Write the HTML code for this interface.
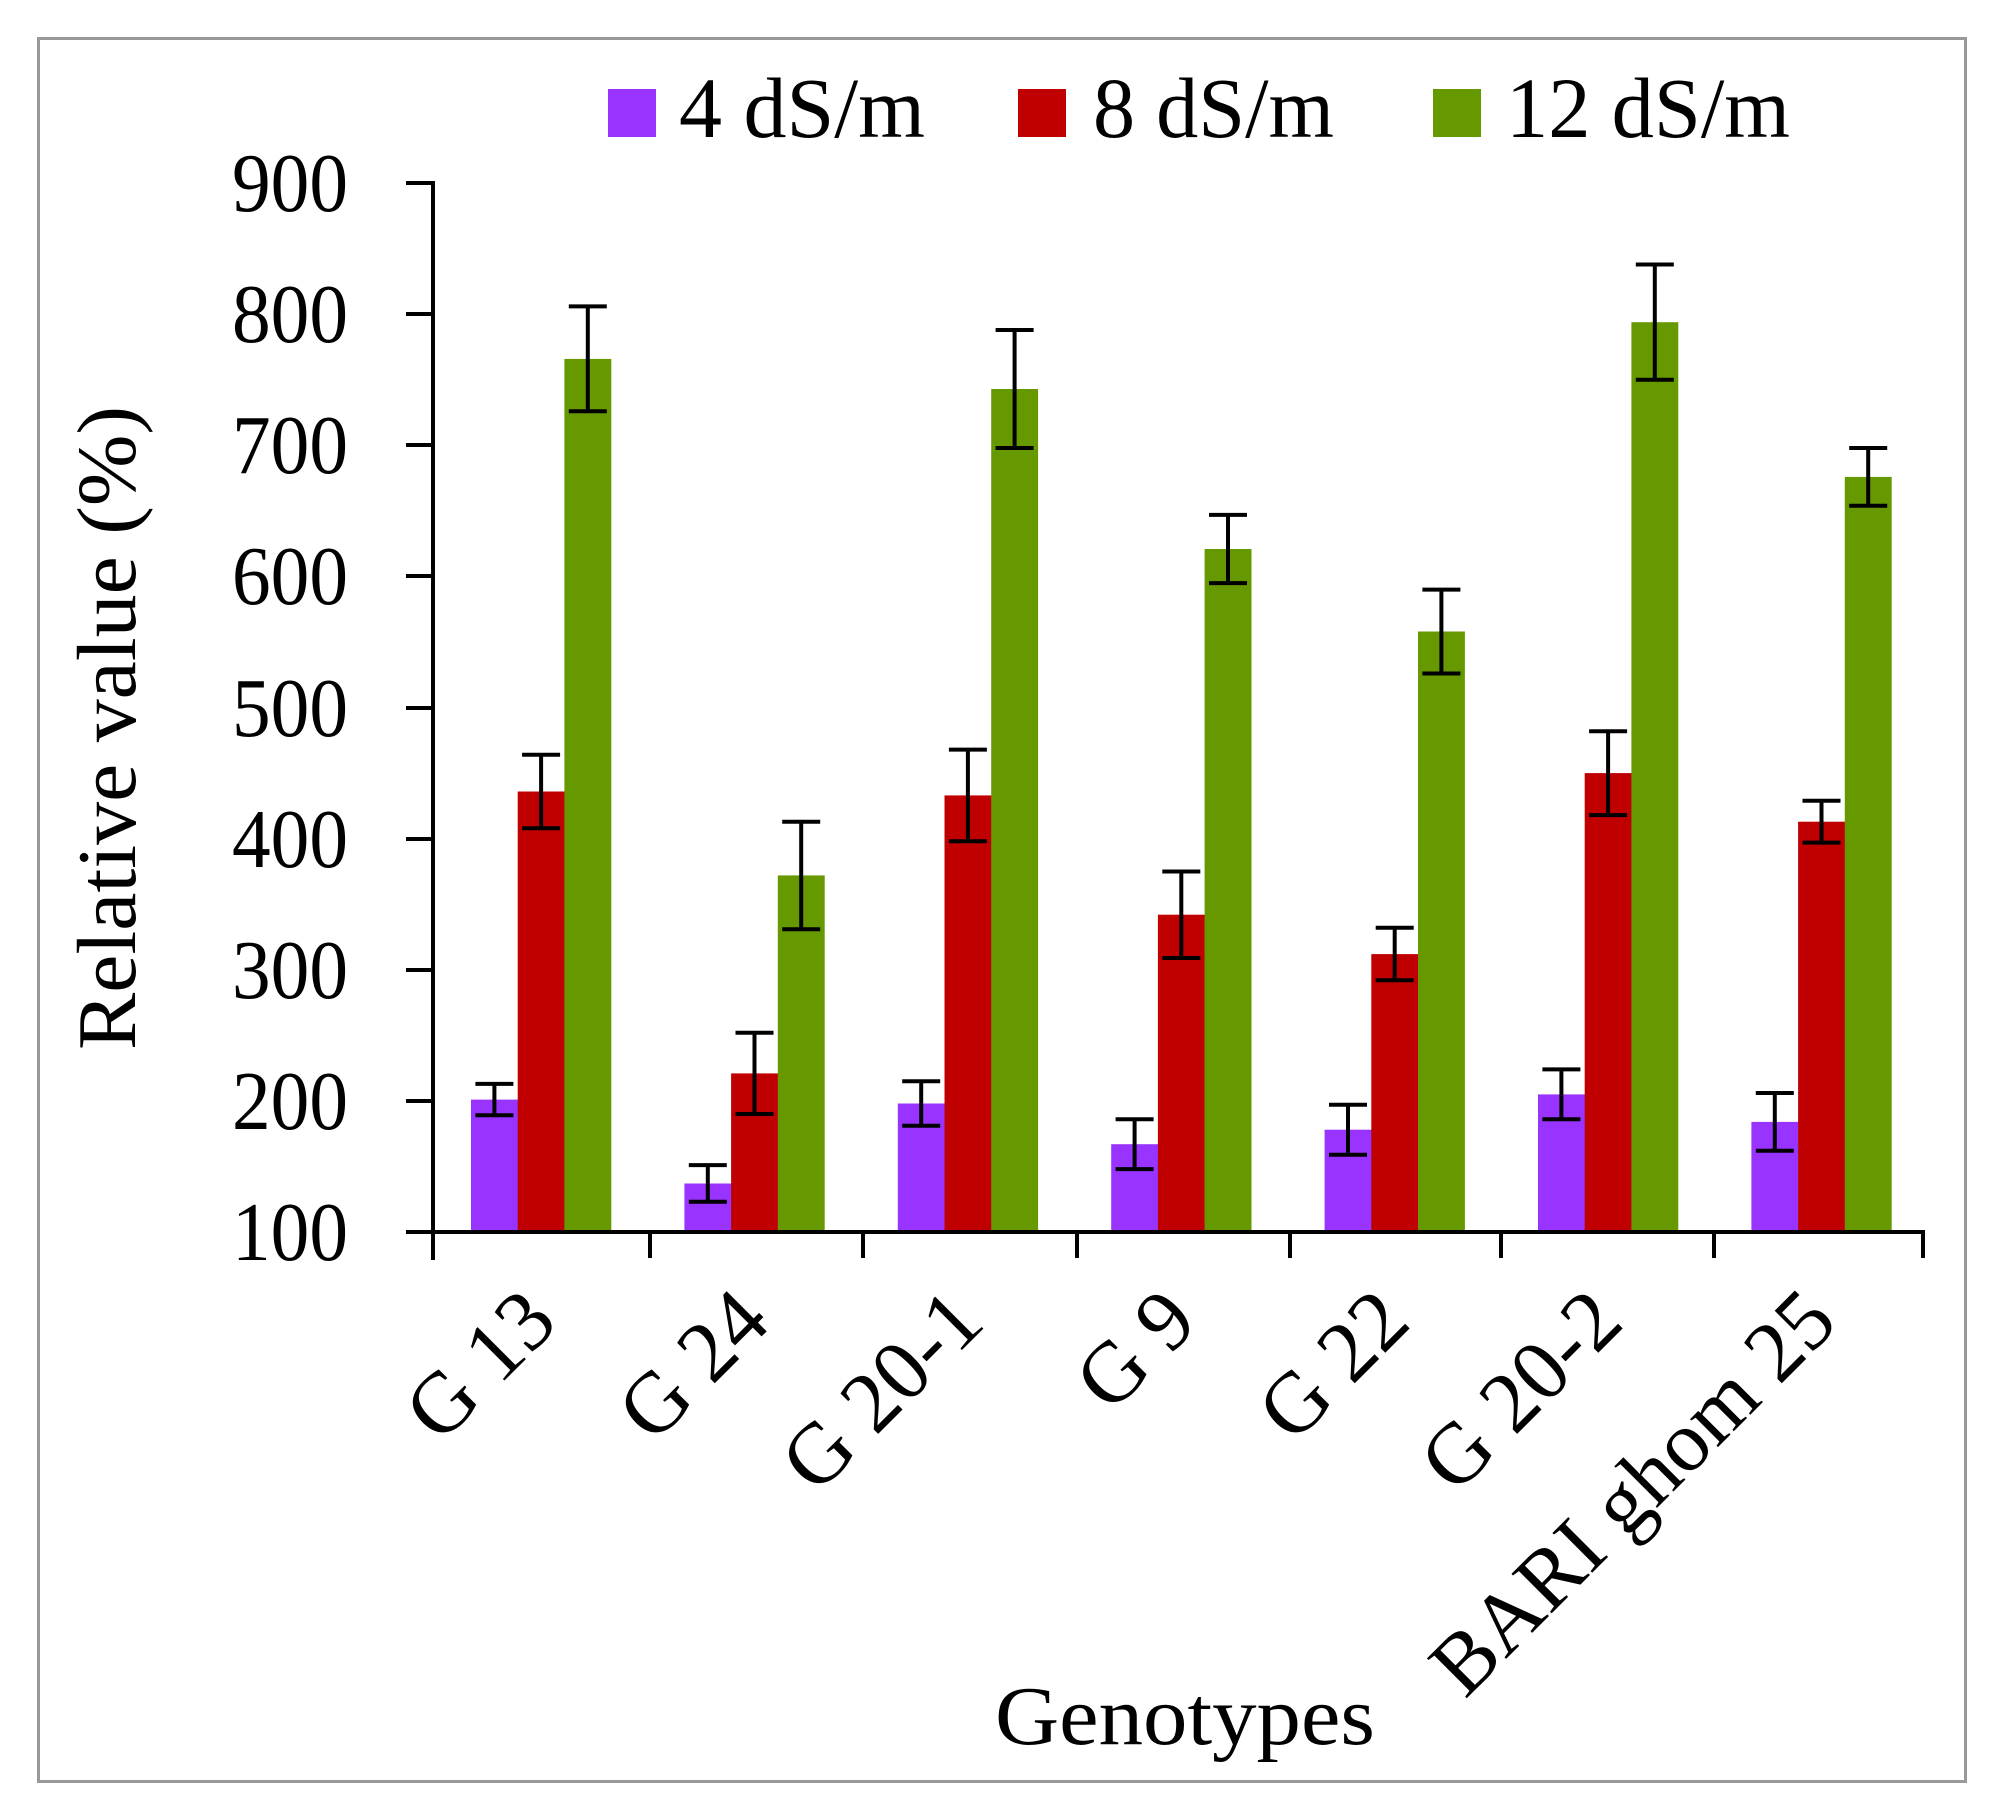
<!DOCTYPE html>
<html><head><meta charset="utf-8"><style>html,body{margin:0;padding:0;background:#fff}svg{display:block}</style></head>
<body>
<svg width="1995" height="1819" viewBox="0 0 1995 1819" xmlns="http://www.w3.org/2000/svg" font-family="'Liberation Serif', serif">
<rect x="38.5" y="38.5" width="1927" height="1743" fill="none" stroke="#999" stroke-width="3"/>
<rect x="608" y="89" width="48" height="48" fill="#9933FF"/>
<text x="679" y="137" font-size="86" textLength="246" lengthAdjust="spacingAndGlyphs">4 dS/m</text>
<rect x="1018" y="89" width="48" height="48" fill="#C00000"/>
<text x="1093" y="137" font-size="86" textLength="241" lengthAdjust="spacingAndGlyphs">8 dS/m</text>
<rect x="1433" y="89" width="48" height="48" fill="#669900"/>
<text x="1506" y="137" font-size="86" textLength="284" lengthAdjust="spacingAndGlyphs">12 dS/m</text>
<g fill="#9933FF">
<rect x="471" y="1099.6" width="47" height="132.4"/>
<rect x="684.4" y="1183.5" width="47" height="48.5"/>
<rect x="897.8" y="1103.5" width="47" height="128.5"/>
<rect x="1111.2" y="1144.2" width="47" height="87.8"/>
<rect x="1324.6" y="1129.7" width="47" height="102.3"/>
<rect x="1538" y="1094.4" width="47" height="137.6"/>
<rect x="1751.4" y="1121.9" width="47" height="110.1"/>
</g>
<g fill="#C00000">
<rect x="517.7" y="791.5" width="47" height="440.5"/>
<rect x="731.1" y="1073.4" width="47" height="158.6"/>
<rect x="944.5" y="795.4" width="47" height="436.6"/>
<rect x="1157.9" y="914.7" width="47" height="317.3"/>
<rect x="1371.3" y="954.1" width="47" height="277.9"/>
<rect x="1584.7" y="773.1" width="47" height="458.9"/>
<rect x="1798.1" y="821.7" width="47" height="410.3"/>
</g>
<g fill="#669900">
<rect x="564.4" y="358.9" width="46.9" height="873.1"/>
<rect x="777.8" y="875.4" width="46.9" height="356.6"/>
<rect x="991.2" y="389" width="46.9" height="843"/>
<rect x="1204.6" y="549" width="46.9" height="683"/>
<rect x="1418" y="631.5" width="46.9" height="600.5"/>
<rect x="1631.4" y="322.2" width="46.9" height="909.8"/>
<rect x="1844.8" y="476.9" width="46.9" height="755.1"/>
</g>
<g stroke="#000" stroke-width="4" fill="none">
<path d="M494.4 1083.9V1115.3M475.4 1083.9H513.4M475.4 1115.3H513.4"/>
<path d="M541.1 754.8V828.2M522.1 754.8H560.1M522.1 828.2H560.1"/>
<path d="M587.8 306.4V411.3M568.8 306.4H606.8M568.8 411.3H606.8"/>
<path d="M707.8 1165.1V1201.8M688.8 1165.1H726.8M688.8 1201.8H726.8"/>
<path d="M754.5 1032.7V1114M735.5 1032.7H773.5M735.5 1114H773.5"/>
<path d="M801.2 821.7V929.2M782.2 821.7H820.2M782.2 929.2H820.2"/>
<path d="M921.2 1081.2V1125.8M902.2 1081.2H940.2M902.2 1125.8H940.2"/>
<path d="M967.9 749.6V841.3M948.9 749.6H986.9M948.9 841.3H986.9"/>
<path d="M1014.6 330V448M995.6 330H1033.6M995.6 448H1033.6"/>
<path d="M1134.6 1119.3V1169.1M1115.6 1119.3H1153.6M1115.6 1169.1H1153.6"/>
<path d="M1181.3 871.5V958M1162.3 871.5H1200.3M1162.3 958H1200.3"/>
<path d="M1228 514.9V583.1M1209 514.9H1247M1209 583.1H1247"/>
<path d="M1348 1104.8V1154.7M1329 1104.8H1367M1329 1154.7H1367"/>
<path d="M1394.7 927.8V980.3M1375.7 927.8H1413.7M1375.7 980.3H1413.7"/>
<path d="M1441.4 589.6V673.5M1422.4 589.6H1460.4M1422.4 673.5H1460.4"/>
<path d="M1561.4 1069.4V1119.3M1542.4 1069.4H1580.4M1542.4 1119.3H1580.4"/>
<path d="M1608.1 731.2V815.1M1589.1 731.2H1627.1M1589.1 815.1H1627.1"/>
<path d="M1654.8 264.5V379.8M1635.8 264.5H1673.8M1635.8 379.8H1673.8"/>
<path d="M1774.8 1093V1150.7M1755.8 1093H1793.8M1755.8 1150.7H1793.8"/>
<path d="M1821.5 800.7V842.6M1802.5 800.7H1840.5M1802.5 842.6H1840.5"/>
<path d="M1868.2 448V505.7M1849.2 448H1887.2M1849.2 505.7H1887.2"/>
</g>
<g stroke="#000" stroke-width="4">
<line x1="433" y1="181" x2="433" y2="1260"/>
<line x1="406" y1="183" x2="433" y2="183"/>
<line x1="406" y1="314" x2="433" y2="314"/>
<line x1="406" y1="445" x2="433" y2="445"/>
<line x1="406" y1="576" x2="433" y2="576"/>
<line x1="406" y1="708" x2="433" y2="708"/>
<line x1="406" y1="839" x2="433" y2="839"/>
<line x1="406" y1="970" x2="433" y2="970"/>
<line x1="406" y1="1101" x2="433" y2="1101"/>
<line x1="406" y1="1232" x2="1923" y2="1232"/>
<line x1="650" y1="1232" x2="650" y2="1258"/>
<line x1="863" y1="1232" x2="863" y2="1258"/>
<line x1="1077" y1="1232" x2="1077" y2="1258"/>
<line x1="1290" y1="1232" x2="1290" y2="1258"/>
<line x1="1501" y1="1232" x2="1501" y2="1258"/>
<line x1="1714" y1="1232" x2="1714" y2="1258"/>
<line x1="1923" y1="1230" x2="1923" y2="1258"/>
</g>
<g font-size="84" text-anchor="end">
<text x="348" y="211" textLength="116" lengthAdjust="spacingAndGlyphs">900</text>
<text x="348" y="342" textLength="116" lengthAdjust="spacingAndGlyphs">800</text>
<text x="348" y="473" textLength="116" lengthAdjust="spacingAndGlyphs">700</text>
<text x="348" y="604" textLength="116" lengthAdjust="spacingAndGlyphs">600</text>
<text x="348" y="736" textLength="116" lengthAdjust="spacingAndGlyphs">500</text>
<text x="348" y="867" textLength="116" lengthAdjust="spacingAndGlyphs">400</text>
<text x="348" y="998" textLength="116" lengthAdjust="spacingAndGlyphs">300</text>
<text x="348" y="1129" textLength="116" lengthAdjust="spacingAndGlyphs">200</text>
<text x="348" y="1260" textLength="116" lengthAdjust="spacingAndGlyphs">100</text>
</g>
<text transform="translate(135,728) rotate(-90)" font-size="84" text-anchor="middle" textLength="644" lengthAdjust="spacingAndGlyphs">Relative value (%)</text>
<text x="1185" y="1744" font-size="84" text-anchor="middle" textLength="380" lengthAdjust="spacingAndGlyphs">Genotypes</text>
<g font-size="86" text-anchor="end">
<text transform="translate(560,1325) rotate(-45)">G 13</text>
<text transform="translate(773,1325) rotate(-45)">G 24</text>
<text transform="translate(987,1325) rotate(-45)">G 20-1</text>
<text transform="translate(1200,1325) rotate(-45)">G 9</text>
<text transform="translate(1413,1325) rotate(-45)">G 22</text>
<text transform="translate(1626,1325) rotate(-45)">G 20-2</text>
<text transform="translate(1840,1325) rotate(-45)">BARI ghom 25</text>
</g>
</svg>
</body></html>
